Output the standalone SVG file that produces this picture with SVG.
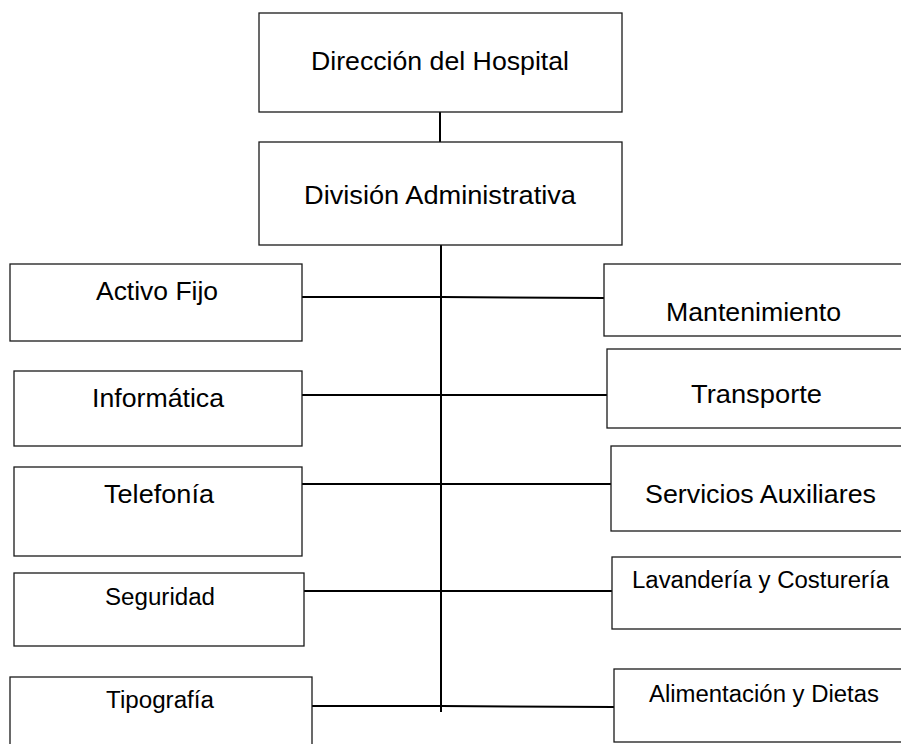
<svg xmlns="http://www.w3.org/2000/svg" width="901" height="744" viewBox="0 0 901 744">
<style>
.box{fill:#fff;stroke:#1a1a1a;stroke-width:1.3}
.lbl{font-family:"Liberation Sans",Arial,sans-serif;fill:#000}
.big{font-size:26px}
.sm{font-size:23.5px}
.con{stroke:#000;stroke-width:2;fill:none}
</style>
<rect width="901" height="744" fill="#fff"/>
<g id="connectors">
<line class="con" x1="440" y1="112" x2="440" y2="142"/>
<line class="con" x1="441" y1="245" x2="441" y2="712"/>
<polyline class="con" points="302,297 441,297 604,298"/>
<line class="con" x1="302" y1="395" x2="607" y2="395"/>
<line class="con" x1="302" y1="484" x2="611" y2="484"/>
<line class="con" x1="304" y1="591" x2="612" y2="591"/>
<polyline class="con" points="303,706 441,706 614,707"/>
</g>
<g id="direccion"><rect class="box" x="259" y="13" width="363" height="99"/><text class="lbl big" x="311" y="70" textLength="258" lengthAdjust="spacingAndGlyphs">Dirección del Hospital</text></g>
<g id="division"><rect class="box" x="259" y="142" width="363" height="103"/><text class="lbl big" x="304" y="204" textLength="272" lengthAdjust="spacingAndGlyphs">División Administrativa</text></g>
<g id="activo"><rect class="box" x="10" y="264" width="292" height="77"/><text class="lbl big" x="96" y="300" textLength="122" lengthAdjust="spacingAndGlyphs">Activo Fijo</text></g>
<g id="informatica"><rect class="box" x="14" y="371" width="288" height="75"/><text class="lbl big" x="92" y="407" textLength="132" lengthAdjust="spacingAndGlyphs">Informática</text></g>
<g id="telefonia"><rect class="box" x="14" y="467" width="288" height="89"/><text class="lbl big" x="104" y="503" textLength="110" lengthAdjust="spacingAndGlyphs">Telefonía</text></g>
<g id="seguridad"><rect class="box" x="14" y="573" width="290" height="73"/><text class="lbl sm" x="105" y="605" textLength="110" lengthAdjust="spacingAndGlyphs">Seguridad</text></g>
<g id="tipografia"><rect class="box" x="10" y="677" width="302" height="80"/><text class="lbl sm" x="106" y="708" textLength="108" lengthAdjust="spacingAndGlyphs">Tipografía</text></g>
<g id="mantenimiento"><rect class="box" x="604" y="264" width="310" height="72"/><text class="lbl big" x="666" y="321" textLength="175" lengthAdjust="spacingAndGlyphs">Mantenimiento</text></g>
<g id="transporte"><rect class="box" x="607" y="349" width="310" height="79"/><text class="lbl big" x="691" y="403" textLength="131" lengthAdjust="spacingAndGlyphs">Transporte</text></g>
<g id="servicios"><rect class="box" x="611" y="446" width="310" height="85"/><text class="lbl big" x="645" y="503" textLength="231" lengthAdjust="spacingAndGlyphs">Servicios Auxiliares</text></g>
<g id="lavanderia"><rect class="box" x="612" y="557" width="310" height="72"/><text class="lbl sm" x="632" y="588" textLength="257" lengthAdjust="spacingAndGlyphs">Lavandería y Costurería</text></g>
<g id="alimentacion"><rect class="box" x="614" y="669" width="310" height="73"/><text class="lbl sm" x="649" y="702" textLength="230" lengthAdjust="spacingAndGlyphs">Alimentación y Dietas</text></g>
</svg>
